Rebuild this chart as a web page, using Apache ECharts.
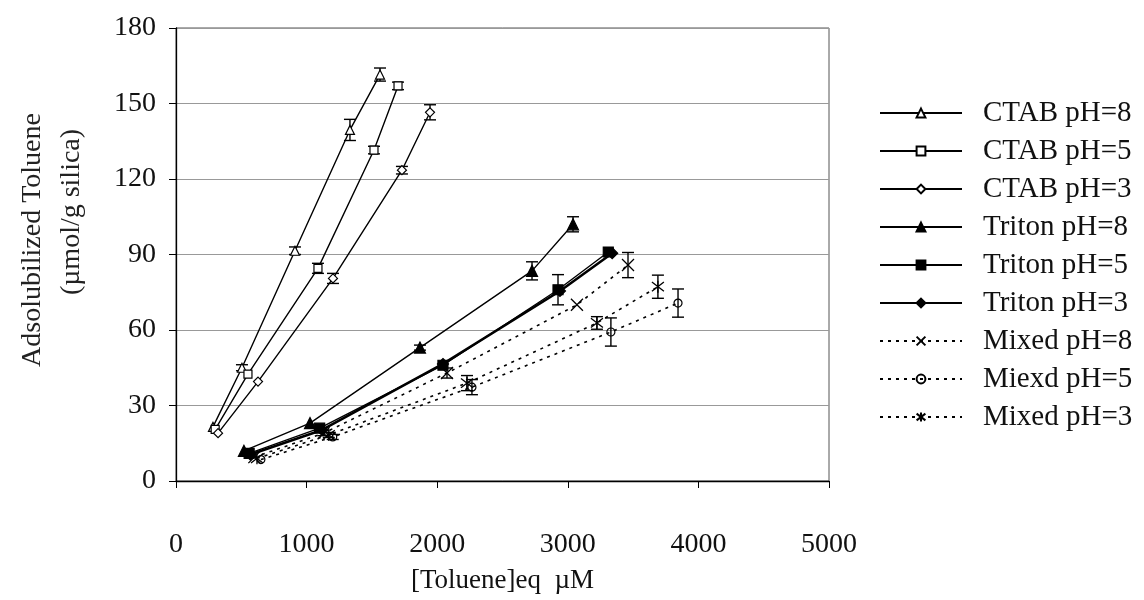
<!DOCTYPE html>
<html><head><meta charset="utf-8">
<script src="https://cdn.jsdelivr.net/npm/echarts@6/dist/echarts.min.js"></script>
<style>html,body{margin:0;padding:0;background:#fff}#c{width:1144px;height:600px}</style>
</head><body><div id="c"></div>
<script>
// ---- data ----
const seriesNames = ['CTAB pH=8','CTAB pH=5','CTAB pH=3','Triton pH=8','Triton pH=5','Triton pH=3','Mixed pH=8','Miexd pH=5','Mixed pH=3'];

const ctab8X = [283, 505, 911, 1332, 1562];
const ctab8Y = [21.5, 45, 91.5, 139.5, 161.5];
const ctab8E = [0, 1.2, 1.5, 4.2, 2.6];

const ctab5X = [300, 551, 1087, 1516, 1700];
const ctab5Y = [20.5, 42.5, 84.5, 131.5, 157];
const ctab5E = [0, 0, 2, 1.5, 1.5];

const ctab3X = [322, 628, 1202, 1730, 1945];
const ctab3Y = [19, 39.5, 80.5, 123.5, 146.5];
const ctab3E = [0, 0, 2, 1.5, 3];

const trit8X = [520, 1026, 1868, 2726, 3040];
const trit8Y = [12, 23, 53, 83.5, 102];
const trit8E = [0, 0, 1, 3.6, 3];

const trit5X = [560, 1100, 2044, 2925, 3310];
const trit5Y = [11, 21, 46, 76, 91];
const trit5E = [0, 0, 0, 6, 0];

const trit3X = [570, 1118, 2044, 2940, 3340];
const trit3Y = [10.5, 20.3, 46.5, 75.5, 90.5];
const trit3E = [0, 0, 0, 0, 0];

const mix8X = [600, 1130, 2075, 3070, 3461];
const mix8Y = [9.5, 19, 42.9, 70, 85.8];
const mix8E = [0, 1, 2, 0, 5];

const mix5X = [650, 1200, 2266, 3330, 3844];
const mix5Y = [8.5, 17.5, 37.3, 59.2, 70.7];
const mix5E = [0, 1, 3, 5.6, 5.6];

const mix3X = [620, 1170, 2228, 3223, 3690];
const mix3Y = [9, 18.3, 38.9, 62.8, 77.2];
const mix3E = [0, 1, 3, 2.5, 4.6];

const xTicks = [0, 1000, 2000, 3000, 4000, 5000];
const yTicks = [0, 30, 60, 90, 120, 150, 180];
// --------------------------------------

const FONT = "'Liberation Serif','Times New Roman',serif";
const pts = (xs, ys) => xs.map((x, i) => [x, ys[i]]);
const errs = (xs, ys, es) => xs.map((x, i) => [x, ys[i], es[i]]).filter(d => d[2] > 0);

const X_SYM = 'path://M0,0L10,10M10,0L0,10';
const AST_SYM = 'path://M0,0L10,10M10,0L0,10M5,-1.5L5,11.5';

function lineSeries(name, data, symbol, size, opts) {
  opts = opts || {};
  return {
    name, type: 'line', data, symbol, symbolSize: size,
    showAllSymbol: true,
    lineStyle: { color: '#000', width: opts.width || 1.4, type: opts.type || 'solid' },
    itemStyle: { color: opts.fill || '#000', borderColor: '#000', borderWidth: opts.bw || 1.2 },
    emphasis: { disabled: true },
    z: 3
  };
}

function renderErr(params, api) {
  const x = api.value(0), y = api.value(1), e = api.value(2);
  const t = api.coord([x, y + e]), b = api.coord([x, y - e]);
  const w = 6, st = { stroke: '#000', lineWidth: 1.4 };
  return {
    type: 'group', children: [
      { type: 'line', shape: { x1: t[0], y1: t[1], x2: b[0], y2: b[1] }, style: st },
      { type: 'line', shape: { x1: t[0] - w, y1: t[1], x2: t[0] + w, y2: t[1] }, style: st },
      { type: 'line', shape: { x1: b[0] - w, y1: b[1], x2: b[0] + w, y2: b[1] }, style: st }
    ]
  };
}
function errSeries(data) {
  return { name: 'err', type: 'custom', renderItem: renderErr, data, encode: { x: 0, y: 1 }, z: 2, silent: true };
}

const dotted = [3, 5];
const series = [
  lineSeries(seriesNames[0], pts(ctab8X, ctab8Y), 'triangle', 9, { fill: '#fff' }),
  lineSeries(seriesNames[1], pts(ctab5X, ctab5Y), 'rect', 8, { fill: '#fff' }),
  lineSeries(seriesNames[2], pts(ctab3X, ctab3Y), 'diamond', 9, { fill: '#fff' }),
  lineSeries(seriesNames[3], pts(trit8X, trit8Y), 'triangle', 11),
  lineSeries(seriesNames[4], pts(trit5X, trit5Y), 'rect', 10),
  lineSeries(seriesNames[5], pts(trit3X, trit3Y), 'diamond', 11, { width: 2.6 }),
  lineSeries(seriesNames[6], pts(mix8X, mix8Y), X_SYM, 12, { type: dotted, width: 1.6, bw: 1.3 }),
  lineSeries(seriesNames[7], pts(mix5X, mix5Y), 'circle', 8, { type: dotted, width: 1.6, fill: 'rgba(255,255,255,0)' }),
  lineSeries(seriesNames[8], pts(mix3X, mix3Y), AST_SYM, 12, { type: dotted, width: 1.6, bw: 1.3 }),
  errSeries(errs(ctab8X, ctab8Y, ctab8E)),
  errSeries(errs(ctab5X, ctab5Y, ctab5E)),
  errSeries(errs(ctab3X, ctab3Y, ctab3E)),
  errSeries(errs(trit8X, trit8Y, trit8E)),
  errSeries(errs(trit5X, trit5Y, trit5E)),
  errSeries(errs(trit3X, trit3Y, trit3E)),
  errSeries(errs(mix8X, mix8Y, mix8E)),
  errSeries(errs(mix5X, mix5Y, mix5E)),
  errSeries(errs(mix3X, mix3Y, mix3E))
];

const chart = echarts.init(document.getElementById('c'), null, { renderer: 'canvas' });
chart.setOption({
  backgroundColor: '#fff',
  animation: false,
  textStyle: { fontFamily: FONT },
  grid: { left: 176, right: 315, top: 28, bottom: 119, show: true, borderColor: '#555', borderWidth: 1, backgroundColor: '#fff' },
  xAxis: {
    type: 'value', min: xTicks[0], max: xTicks[xTicks.length - 1], interval: 1000,
    axisLine: { lineStyle: { color: '#000', width: 1.3 } },
    axisTick: { inside: false, length: 7, lineStyle: { color: '#000' } },
    splitLine: { show: false },
    axisLabel: { color: '#111', fontSize: 28, fontFamily: FONT, margin: 50, formatter: v => String(v) },
    name: '[Toluene]eq  \u00B5M', nameLocation: 'middle', nameGap: 86,
    nameTextStyle: { color: '#111', fontSize: 27, fontFamily: FONT }
  },
  yAxis: {
    type: 'value', min: yTicks[0], max: yTicks[yTicks.length - 1], interval: 30,
    axisLine: { show: true, lineStyle: { color: '#000', width: 1.3 } },
    axisTick: { show: true, inside: false, length: 7, lineStyle: { color: '#000' } },
    splitLine: { show: true, lineStyle: { color: '#999', width: 1.2 } },
    axisLabel: { color: '#111', fontSize: 28, fontFamily: FONT, margin: 20, formatter: v => String(v) }
  },
  legend: {
    data: seriesNames, orient: 'vertical', left: 874, top: 93,
    itemWidth: 82, itemHeight: 11, itemGap: 8,
    textStyle: { fontSize: 29, fontFamily: FONT, color: '#111', lineHeight: 30, padding: [0, 0, 0, 16] },
    selectedMode: false
  },
  graphic: [
    { type: 'text', rotation: Math.PI / 2, x: 33, y: 240, style: { text: 'Adsolubilized Toluene', font: "28px 'Liberation Serif'", fill: '#222', align: 'center', verticalAlign: 'middle' } },
    { type: 'text', rotation: Math.PI / 2, x: 72, y: 212, style: { text: '(\u00B5mol/g silica)', font: "28px 'Liberation Serif'", fill: '#222', align: 'center', verticalAlign: 'middle' } }
  ],
  series
});
</script></body></html>
